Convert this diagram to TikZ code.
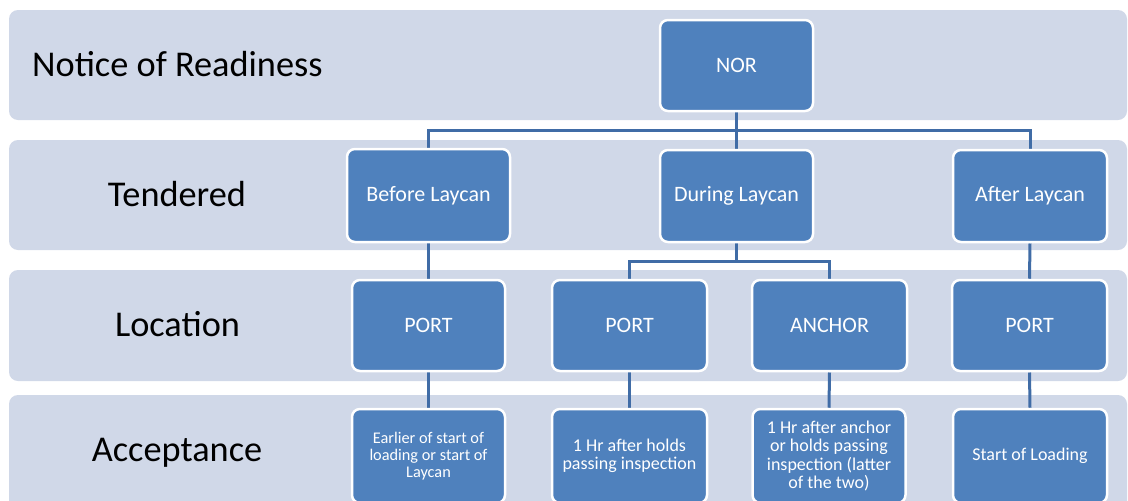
\documentclass[tikz,border=0pt]{standalone}
\usepackage{fontspec}
\setmainfont{Carlito}
\usetikzlibrary{positioning}
\definecolor{bandc}{RGB}{208,216,232}
\definecolor{boxc}{RGB}{79,129,189}
\definecolor{linec}{RGB}{64,108,166}
\pgfdeclarelayer{bg}
\pgfdeclarelayer{mid}
\pgfsetlayers{bg,mid,main}
\tikzset{
  band/.style={fill=bandc, draw=none, rounded corners=9pt},
  bandlabel/.style={font=\fontsize{36.3}{40}\selectfont, text=black, inner sep=0pt},
  box/.style={draw=white, line width=2.5pt, fill=boxc, rounded corners=8pt, text=white,
    minimum width=153pt, minimum height=91pt, inner sep=0pt, align=center,
    font=\fontsize{22}{26}\selectfont},
  accbox/.style={box, minimum height=94pt, font=\fontsize{18}{18.5}\selectfont},
  conn/.style={draw=linec, line width=3pt}
}
\begin{document}
\begin{tikzpicture}[x=1pt,y=-1pt]
\useasboundingbox (0,0) rectangle (1128,501);
\clip (0,0) rectangle (1128,501);
\begin{pgfonlayer}{bg}
\fill[white] (0,0) rectangle (1128,501);
\fill[band] (9,10) rectangle (1127,120);
\fill[band] (9,140) rectangle (1127,250);
\fill[band] (9,270) rectangle (1127,381);
\fill[band] (9,395) rectangle (1127,520);
\end{pgfonlayer}
\node[bandlabel, anchor=base west] (lnor) at (32,76) {Notice of Readiness};
\node[bandlabel, anchor=base] (lten) at (177,206) {Tendered};
\node[bandlabel, anchor=base] (lloc) at (177.5,336) {Location};
\node[bandlabel, anchor=base] (lacc) at (177,461) {Acceptance};

\node[box] (nor) at (736.5,65.5) {NOR};
\node[box, minimum width=163pt, minimum height=93pt] (bef) at (428.5,195.5) {Before Laycan};
\node[box, minimum height=92pt] (dur) at (736.5,196) {During Laycan};
\node[box, minimum width=154pt, minimum height=92pt] (aft) at (1030,196) {After Laycan};

\node[box] (p1) at (428.5,325.5) {PORT};
\node[box, minimum width=155pt] (p2) at (629.5,325.5) {PORT};
\node[box, minimum width=155pt] (anc) at (829.5,325.5) {ANCHOR};
\node[box, minimum width=155pt] (p4) at (1029.5,325.5) {PORT};

\node[accbox, font=\fontsize{16.3}{17}\selectfont] (a1) at (428.5,456) {Earlier of start of\\loading or start of\\Laycan};
\node[accbox, minimum width=155pt] (a2) at (629.5,456) {1 Hr after holds\\passing inspection};
\node[accbox] (a3) at (829,456) {1 Hr after anchor\\or holds passing\\inspection (latter\\of the two)};
\node[accbox, minimum width=154pt] (a4) at (1030,456) {Start of Loading};

\coordinate (j1) at (736.5,130);
\coordinate (j2) at (736.5,261);
\begin{pgfonlayer}{mid}
\draw[conn] (nor.south) -- (j1) -| (bef.north);
\draw[conn] (j1) -| (aft.north);
\draw[conn] (j1) -- (dur.north);
\draw[conn] (dur.south) -- (j2) -| (p2.north);
\draw[conn] (j2) -| (anc.north);
\draw[conn] (bef.south) -- (p1.north);
\draw[conn] (aft.south) -- (p4.north);
\draw[conn] (p1.south) -- (a1.north);
\draw[conn] (p2.south) -- (a2.north);
\draw[conn] (anc.south) -- (a3.north);
\draw[conn] (p4.south) -- (a4.north);
\end{pgfonlayer}
\end{tikzpicture}
\end{document}
